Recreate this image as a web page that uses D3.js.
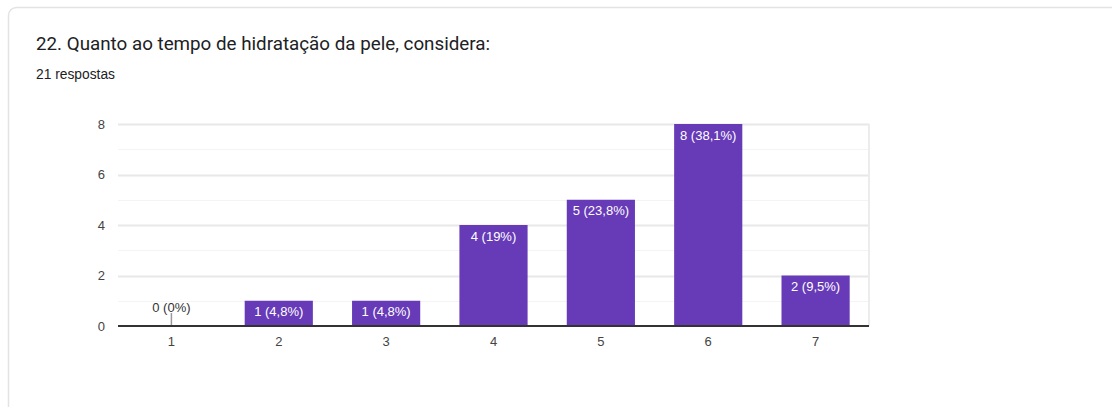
<!DOCTYPE html>
<html>
<head>
<meta charset="utf-8">
<script src="https://cdn.jsdelivr.net/npm/d3@7"></script>
<style>
  html, body { margin: 0; padding: 0; background: #fff; }
  svg { display: block; }
</style>
</head>
<body>
<svg id="chart" width="1112" height="407"></svg>
<script>
// Survey answers: rating scale 1..7 and the number of respondents per rating
const categories = ["1", "2", "3", "4", "5", "6", "7"];
const counts = [0, 1, 1, 4, 5, 8, 2];
const percentLabels = ["0%", "4,8%", "4,8%", "19%", "23,8%", "38,1%", "9,5%"];
const yTicks = [0, 2, 4, 6, 8];
const yMinorTicks = [1, 3, 5, 7];

const chartFont = "Arial, 'Liberation Sans', sans-serif";
const svg = d3.select("#chart");

// card frame
svg.append("rect")
  .attr("x", 8.5).attr("y", 7.5)
  .attr("width", 1200).attr("height", 500)
  .attr("rx", 8).attr("ry", 8)
  .attr("fill", "#fff")
  .attr("stroke", "#e3e3e3")
  .attr("stroke-width", 1.5);

svg.append("text")
  .attr("x", 36).attr("y", 50)
  .attr("font-family", "Roboto, Arial, sans-serif")
  .attr("font-size", 18.8)
  .attr("fill", "#202124")
  .text("22. Quanto ao tempo de hidratação da pele, considera:");

svg.append("text")
  .attr("x", 36).attr("y", 79)
  .attr("font-family", chartFont)
  .attr("font-size", 13.8)
  .attr("fill", "#202124")
  .text("21 respostas");

const plot = { left: 118, right: 869, top: 124, bottom: 326 };

const x = d3.scaleBand()
  .domain(categories)
  .range([plot.left, plot.right])
  .paddingInner(0.365)
  .paddingOuter(0.18);

const y = d3.scaleLinear()
  .domain([0, 8])
  .range([plot.bottom, plot.top]);

const g = svg.append("g");

// minor gridlines
g.selectAll("line.minor")
  .data(yMinorTicks)
  .join("line")
  .attr("class", "minor")
  .attr("x1", plot.left).attr("x2", plot.right)
  .attr("y1", d => Math.round(y(d)) + 0.5)
  .attr("y2", d => Math.round(y(d)) + 0.5)
  .attr("stroke", "#f4f4f4")
  .attr("stroke-width", 1);

// major gridlines
g.selectAll("line.major")
  .data(yTicks.filter(d => d > 0))
  .join("line")
  .attr("class", "major")
  .attr("x1", plot.left).attr("x2", plot.right)
  .attr("y1", d => Math.round(y(d)) + 0.5)
  .attr("y2", d => Math.round(y(d)) + 0.5)
  .attr("stroke", "#e8e8e8")
  .attr("stroke-width", 2);

// right frame edge of the plot area
g.append("line")
  .attr("x1", plot.right).attr("x2", plot.right)
  .attr("y1", plot.top).attr("y2", plot.bottom)
  .attr("stroke", "#ececec")
  .attr("stroke-width", 2);

// y-axis tick labels
const yAxis = d3.axisLeft(y).tickValues(yTicks).tickSize(0).tickPadding(13);
svg.append("g")
  .attr("transform", `translate(${plot.left},0)`)
  .call(yAxis)
  .call(s => s.select(".domain").remove())
  .call(s => s.selectAll("text")
    .attr("font-family", chartFont)
    .attr("font-size", 13)
    .attr("fill", "#444"));

// bars
const data = categories.map((c, i) => ({ c, v: counts[i], p: percentLabels[i] }));

g.selectAll("rect.bar")
  .data(data.filter(d => d.v > 0))
  .join("rect")
  .attr("class", "bar")
  .attr("x", d => x(d.c))
  .attr("width", x.bandwidth())
  .attr("y", d => y(d.v))
  .attr("height", d => y(0) - y(d.v))
  .attr("fill", "#673ab7");

// value labels inside bars
g.selectAll("text.val")
  .data(data.filter(d => d.v > 0))
  .join("text")
  .attr("class", "val")
  .attr("x", d => x(d.c) + x.bandwidth() / 2)
  .attr("y", d => y(d.v) + 15.5)
  .attr("text-anchor", "middle")
  .attr("font-family", chartFont)
  .attr("font-size", 13)
  .attr("fill", "#fff")
  .text(d => `${d.v} (${d.p})`);

// zero-value annotation with stem
const zeros = data.filter(d => d.v === 0);
g.selectAll("line.stem")
  .data(zeros)
  .join("line")
  .attr("class", "stem")
  .attr("x1", d => x(d.c) + x.bandwidth() / 2)
  .attr("x2", d => x(d.c) + x.bandwidth() / 2)
  .attr("y1", y(0) - 13)
  .attr("y2", y(0))
  .attr("stroke", "#999")
  .attr("stroke-width", 1.5);

g.selectAll("text.zero")
  .data(zeros)
  .join("text")
  .attr("class", "zero")
  .attr("x", d => x(d.c) + x.bandwidth() / 2)
  .attr("y", y(0) - 14)
  .attr("text-anchor", "middle")
  .attr("font-family", chartFont)
  .attr("font-size", 13)
  .attr("fill", "#333")
  .text(d => `${d.v} (${d.p})`);

// baseline
g.append("line")
  .attr("x1", plot.left).attr("x2", plot.right)
  .attr("y1", y(0)).attr("y2", y(0))
  .attr("stroke", "#333")
  .attr("stroke-width", 2);

// x-axis tick labels
const xAxis = d3.axisBottom(x).tickSize(0).tickPadding(11);
svg.append("g")
  .attr("transform", `translate(0,${plot.bottom})`)
  .call(xAxis)
  .call(s => s.select(".domain").remove())
  .call(s => s.selectAll("text")
    .attr("font-family", chartFont)
    .attr("font-size", 13)
    .attr("fill", "#444"));
</script>
</body>
</html>
